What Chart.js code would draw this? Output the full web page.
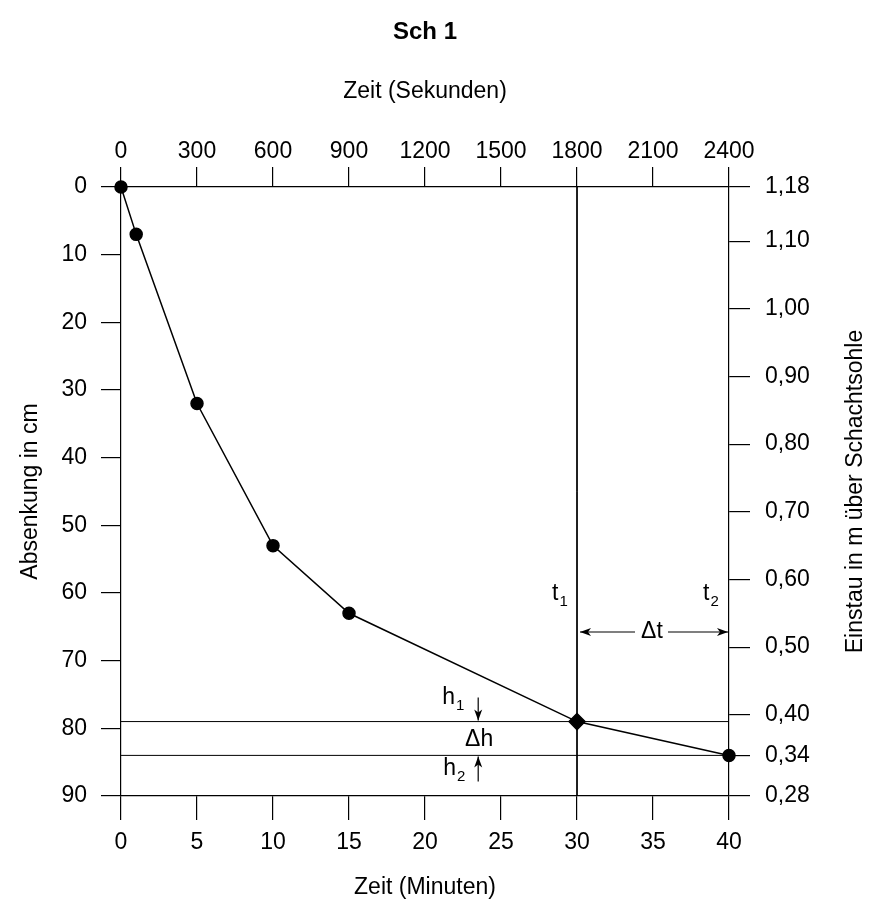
<!DOCTYPE html>
<html>
<head>
<meta charset="utf-8">
<script src="https://cdn.jsdelivr.net/npm/chart.js"></script>
<style>
    html, body { margin: 0; padding: 0; background: #fff; }
    #wrap { width: 871px; height: 912px; }
</style>
</head>
<body>
<div id="wrap"><canvas id="chart"></canvas></div>
<script>
const minuten = [0, 1, 5, 10, 15, 30, 40];
const absenkung = [0, 7, 32, 53, 63, 79, 84];
const punktStil = ['circle', 'circle', 'circle', 'circle', 'circle', 'rectRot', 'circle'];
const einstauTicks = [1.18, 1.10, 1.00, 0.90, 0.80, 0.70, 0.60, 0.50, 0.40, 0.34, 0.28];
const t1 = 30, t2 = 40;
const h1 = 79, h2 = 84;

const FONT = "'Liberation Sans', Arial, sans-serif";

function lineData(xs, ys) {
    return xs.map((x, i) => ({ x: x, y: ys[i] }));
}

function arrow(ctx, x1, y1, x2, y2) {
    const a = Math.atan2(y2 - y1, x2 - x1);
    ctx.beginPath();
    ctx.moveTo(x1, y1);
    ctx.lineTo(x2, y2);
    ctx.stroke();
    ctx.beginPath();
    ctx.moveTo(x2, y2);
    ctx.lineTo(x2 - 11 * Math.cos(a) + 4 * Math.sin(a), y2 - 11 * Math.sin(a) - 4 * Math.cos(a));
    ctx.lineTo(x2 - 8 * Math.cos(a), y2 - 8 * Math.sin(a));
    ctx.lineTo(x2 - 11 * Math.cos(a) - 4 * Math.sin(a), y2 - 11 * Math.sin(a) + 4 * Math.cos(a));
    ctx.closePath();
    ctx.fill();
}

function subText(ctx, main, sub, left, mid) {
    ctx.textAlign = 'left';
    ctx.textBaseline = 'middle';
    ctx.font = '23px ' + FONT;
    ctx.fillText(main, left, mid);
    const w = ctx.measureText(main).width;
    ctx.font = '15px ' + FONT;
    ctx.fillText(sub, left + w + 1, mid + 8);
}

const annotations = {
    id: 'annotations',
    afterDraw(chart) {
        const { ctx, chartArea, scales } = chart;
        const x = scales.x, y = scales.y;
        ctx.save();
        ctx.fillStyle = '#000';
        ctx.strokeStyle = '#000';
        ctx.lineWidth = 1.2;

        // Titel
        ctx.font = 'bold 24px ' + FONT;
        ctx.textAlign = 'center';
        ctx.textBaseline = 'middle';
        ctx.fillText('Sch 1', (chartArea.left + chartArea.right) / 2, 32);

        // rechte Achsenbeschriftung
        ctx.save();
        ctx.translate(chartArea.right + 127, (chartArea.top + chartArea.bottom) / 2);
        ctx.rotate(-Math.PI / 2);
        ctx.font = '23px ' + FONT;
        ctx.fillText('Einstau in m über Schachtsohle', 0, 0);
        ctx.restore();

        // t1, t2, Δt
        const xt1 = x.getPixelForValue(t1);
        const xt2 = x.getPixelForValue(t2);
        subText(ctx, 't', '1', xt1 - 25, 594);
        subText(ctx, 't', '2', xt2 - 26, 594);
        const yDt = 632;
        arrow(ctx, xt1 + 58, yDt, xt1 + 3, yDt);
        arrow(ctx, xt1 + 91, yDt, xt2 - 1, yDt);
        ctx.font = '23px ' + FONT;
        ctx.textAlign = 'center';
        ctx.textBaseline = 'middle';
        ctx.fillText('\u0394t', xt1 + 75, yDt);

        // h1, h2, Δh
        const yh1 = y.getPixelForValue(h1);
        const yh2 = y.getPixelForValue(h2);
        const ax = x.getPixelForValue(23.5);
        subText(ctx, 'h', '1', ax - 36, yh1 - 24);
        arrow(ctx, ax, yh1 - 24, ax, yh1 - 1);
        ctx.font = '23px ' + FONT;
        ctx.textAlign = 'center';
        ctx.textBaseline = 'middle';
        ctx.fillText('\u0394h', ax + 1, (yh1 + yh2) / 2 + 1);
        subText(ctx, 'h', '2', ax - 35, yh2 + 13);
        arrow(ctx, ax, yh2 + 26, ax, yh2 + 1);

        ctx.restore();
    }
};

const tickFont = { family: FONT, size: 23 };
const titleFont = { family: FONT, size: 23 };

new Chart(document.getElementById('chart'), {
    type: 'line',
    data: {
        datasets: [
            {
                data: lineData(minuten, absenkung),
                borderColor: '#000',
                borderWidth: 1.5,
                backgroundColor: '#000',
                pointBackgroundColor: '#000',
                pointBorderColor: '#000',
                pointStyle: punktStil,
                pointRadius: punktStil.map(s => s === 'rectRot' ? 8 : 6),
                tension: 0,
                clip: false
            },
            {
                data: lineData([0, 40], [h1, h1]),
                borderColor: '#000', borderWidth: 1, pointRadius: 0
            },
            {
                data: lineData([0, 40], [h2, h2]),
                borderColor: '#000', borderWidth: 1, pointRadius: 0
            },
            {
                data: lineData([t1, t1], [0, 90]),
                borderColor: '#000', borderWidth: 1, pointRadius: 0
            }
        ]
    },
    options: {
        responsive: true,
        maintainAspectRatio: false,
        animation: false,
        layout: { padding: 0 },
        plugins: {
            legend: { display: false },
            tooltip: { enabled: false },
            title: { display: false }
        },
        scales: {
            x: {
                type: 'linear',
                position: 'bottom',
                min: 0,
                max: 40,
                ticks: { stepSize: 5, color: '#000', font: tickFont, padding: 9, maxRotation: 0 },
                grid: { drawOnChartArea: false, color: '#000', tickColor: '#000', tickLength: 24, lineWidth: 1.2 },
                border: { color: '#000', width: 1.2 },
                title: { display: true, text: 'Zeit (Minuten)', color: '#000', font: titleFont, padding: { top: 0, bottom: 11 } },
                afterFit: s => { s.height = 116; }
            },
            x2: {
                type: 'linear',
                position: 'top',
                min: 0,
                max: 2400,
                ticks: {
                    stepSize: 300, color: '#000', font: tickFont, padding: 2, maxRotation: 0,
                    callback: v => String(v)
                },
                grid: { drawOnChartArea: false, color: '#000', tickColor: '#000', tickLength: 20, lineWidth: 1.2 },
                border: { color: '#000', width: 1.2 },
                title: { display: true, text: 'Zeit (Sekunden)', color: '#000', font: titleFont, padding: { top: 78, bottom: 0 } },
                afterFit: s => { s.height = 187; }
            },
            y: {
                type: 'linear',
                position: 'left',
                reverse: true,
                min: 0,
                max: 90,
                ticks: { stepSize: 10, color: '#000', font: tickFont, padding: 14 },
                grid: { drawOnChartArea: false, color: '#000', tickColor: '#000', tickLength: 20, lineWidth: 1.2 },
                border: { color: '#000', width: 1.2 },
                title: { display: true, text: 'Absenkung in cm', color: '#000', font: titleFont, padding: { top: 17, bottom: 0 } },
                afterFit: s => { s.width = 121; }
            },
            y2: {
                type: 'linear',
                position: 'right',
                min: 0.28,
                max: 1.18,
                afterBuildTicks: s => { s.ticks = einstauTicks.map(v => ({ value: v })); },
                ticks: {
                    color: '#000', font: tickFont, padding: 15,
                    callback: v => v.toFixed(2).replace('.', ',')
                },
                grid: { drawOnChartArea: false, color: '#000', tickColor: '#000', tickLength: 21, lineWidth: 1.2 },
                border: { color: '#000', width: 1.2 },
                afterFit: s => { s.width = 142; }
            }
        }
    },
    plugins: [annotations]
});
</script>
</body>
</html>
